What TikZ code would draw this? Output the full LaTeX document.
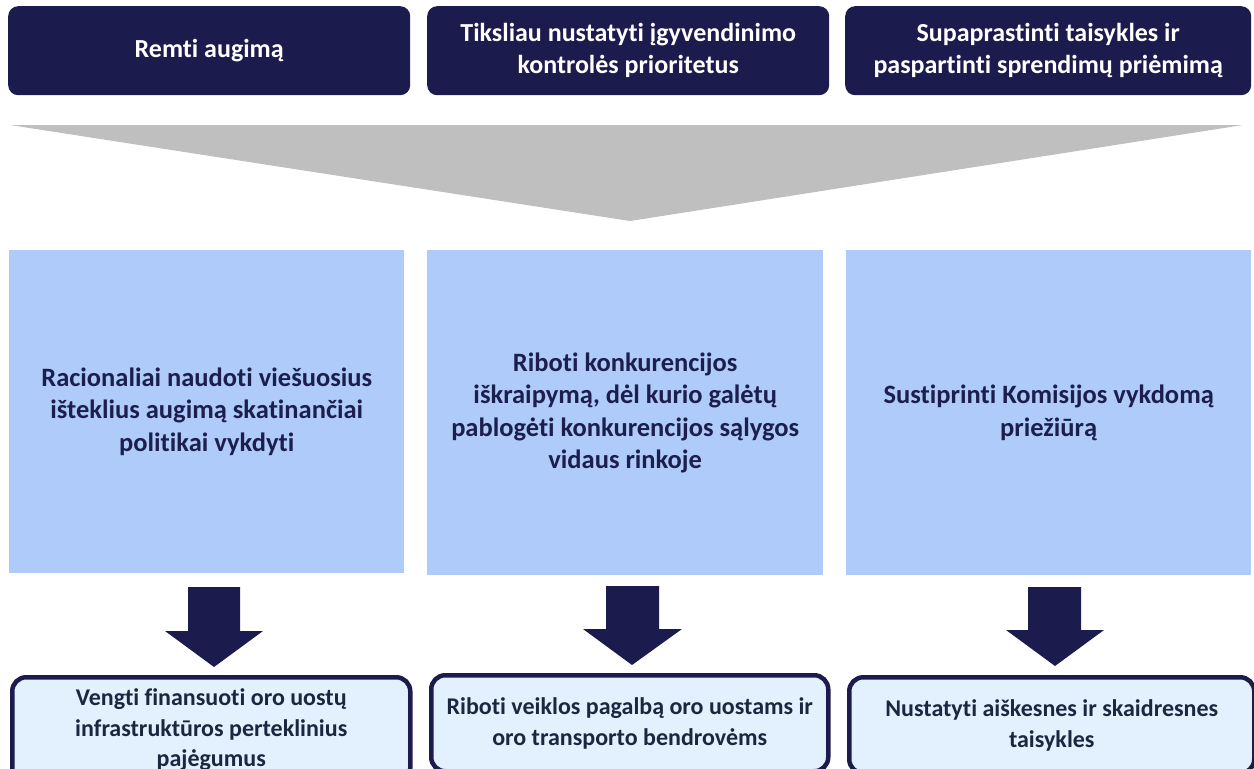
\documentclass[tikz,border=0pt]{standalone}
\usepackage{fontspec}
\setmainfont{Carlito}[Ligatures=NoCommon]
\definecolor{navy}{HTML}{1C1B4D}
\definecolor{midblue}{HTML}{AECBFA}
\definecolor{lightbox}{HTML}{E3F0FD}
\definecolor{tri}{HTML}{BFBFBF}
\definecolor{midtxt}{HTML}{1C1F4E}
\definecolor{bottxt}{HTML}{1B2640}
\begin{document}
\begin{tikzpicture}[x=1pt,y=-1pt,
  topbox/.style={fill=navy, rounded corners=10pt, text=white, align=center, inner sep=0pt,
    anchor=north west, minimum height=89pt, font=\bfseries\fontsize{26}{32}\selectfont},
  midbox/.style={fill=midblue, text=midtxt, align=center, inner sep=0pt, anchor=north west,
    font=\bfseries\fontsize{26.5}{32.5}\selectfont},
  botbox/.style={fill=lightbox, draw=navy, line width=4.5pt, rounded corners=14pt, text=bottxt,
    align=center, inner sep=0pt, anchor=north west, minimum height=96pt,
    font=\bfseries\fontsize{24}{30.5}\selectfont},
  blockarrow/.style={fill=navy}]
\useasboundingbox (0,0) rectangle (1254,769);
\clip (0,0) rectangle (1254,769);
% top boxes
\node[topbox, minimum width=402pt] (t1) at (8,6) {Remti augimą};
\node[topbox, minimum width=402pt] (t2) at (427,6) {Tiksliau nustatyti įgyvendinimo\\kontrolės prioritetus};
\node[topbox, minimum width=406pt] (t3) at (845,6) {Supaprastinti taisykles ir\\paspartinti sprendimų priėmimą};
% funnel triangle
\fill[tri] (10,125) -- (1243,125) -- (630,221) -- cycle;
% middle boxes
\node[midbox, minimum width=395pt, minimum height=323pt] (m1) at (9,250)
  {Racionaliai naudoti viešuosius\\išteklius augimą skatinančiai\\politikai vykdyti};
\node[midbox, minimum width=396pt, minimum height=325pt] (m2) at (427,250)
  {Riboti konkurencijos\\iškraipymą, dėl kurio galėtų\\pablogėti konkurencijos sąlygos\\vidaus rinkoje};
\node[midbox, minimum width=405pt, minimum height=325pt] (m3) at (846,250)
  {Sustiprinti Komisijos vykdomą\\priežiūrą};
% block arrows
\fill[blockarrow] (188,587) -- (240,587) -- (240,631) -- (263,631) -- (214,667) -- (165,631) -- (188,631) -- cycle;
\fill[blockarrow] (606,586) -- (659,586) -- (659,629) -- (682,629) -- (632,665) -- (583,629) -- (606,629) -- cycle;
\fill[blockarrow] (1028,587) -- (1081,587) -- (1081,630) -- (1104,630) -- (1055,666) -- (1006,630) -- (1028,630) -- cycle;
% bottom boxes
\node[botbox, minimum width=398pt, minimum height=105pt] (b1) at (10,675)
  {Vengti finansuoti oro uostų\\infrastruktūros perteklinius\\pajėgumus};
\node[botbox, minimum width=397pt] (b2) at (429,673)
  {Riboti veiklos pagalbą oro uostams ir\\oro transporto bendrovėms};
\node[botbox, minimum width=405pt] (b3) at (847,675)
  {Nustatyti aiškesnes ir skaidresnes\\taisykles};
\end{tikzpicture}
\end{document}
